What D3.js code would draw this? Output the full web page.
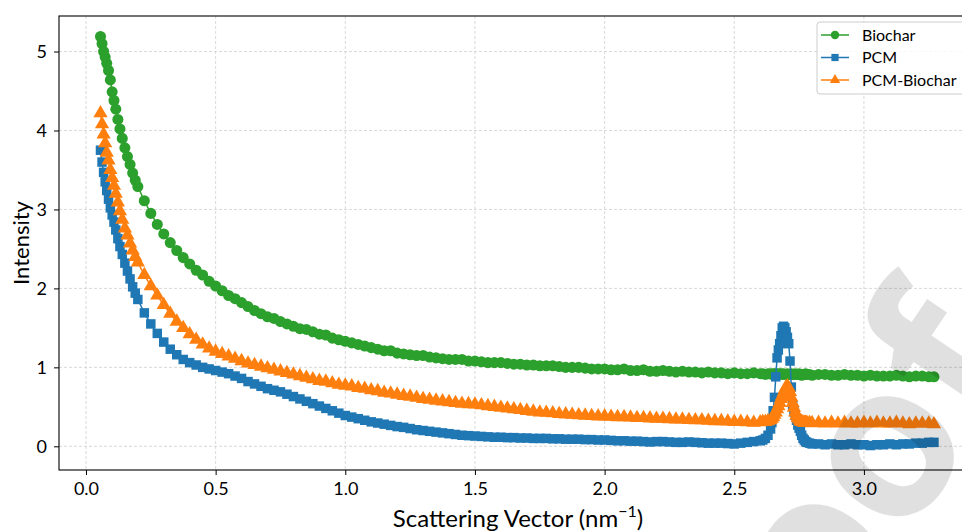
<!DOCTYPE html>
<html>
<head>
<meta charset="utf-8">
<script src="https://cdn.jsdelivr.net/npm/d3@7"></script>
<style>
  body { margin: 0; background: #fff; }
  svg { display: block; font-family: Lato, "Open Sans", sans-serif; }
</style>
</head>
<body>
<svg id="chart" width="962" height="532"></svg>
<script>
'use strict';

// scattering vector (nm^-1), shared by all three curves
var qValues = [
  0.056, 0.062, 0.068, 0.074, 0.08, 0.087, 0.094, 0.101, 0.108, 0.115, 0.123, 0.131, 0.14, 0.15, 0.16, 0.17, 0.18, 0.19, 0.2,
  0.225, 0.25, 0.275, 0.3, 0.325, 0.35, 0.375, 0.4, 0.425, 0.45, 0.475, 0.5, 0.525, 0.55, 0.575, 0.6,
  0.625, 0.65, 0.675, 0.7, 0.725, 0.75, 0.775, 0.8, 0.825, 0.85, 0.875, 0.9, 0.925, 0.95, 0.975, 1.0,
  1.025, 1.05, 1.075, 1.1, 1.125, 1.15, 1.175, 1.2, 1.225, 1.25, 1.275, 1.3, 1.325, 1.35, 1.375, 1.4, 1.425, 1.45, 1.475, 1.5,
  1.525, 1.55, 1.575, 1.6, 1.625, 1.65, 1.675, 1.7, 1.725, 1.75, 1.775, 1.8, 1.825, 1.85, 1.875, 1.9, 1.925, 1.95, 1.975, 2.0,
  2.025, 2.05, 2.075, 2.1, 2.125, 2.15, 2.175, 2.2, 2.225, 2.25, 2.275, 2.3, 2.325, 2.35, 2.375, 2.4, 2.425, 2.45, 2.475, 2.5,
  2.525, 2.55, 2.575, 2.6,
  2.61, 2.62, 2.63, 2.64, 2.645, 2.65, 2.655, 2.66, 2.665, 2.67, 2.675, 2.68, 2.685, 2.69, 2.695, 2.7, 2.705, 2.71, 2.715, 2.72,
  2.725, 2.73, 2.735, 2.74, 2.745, 2.75, 2.755, 2.76, 2.765, 2.77, 2.775, 2.78, 2.79, 2.8,
  2.825, 2.85, 2.875, 2.9, 2.925, 2.95, 2.975, 3.0, 3.025, 3.05, 3.075, 3.1, 3.125, 3.15, 3.175, 3.2, 3.225, 3.25, 3.27
];

var biochar = [
  5.19, 5.10, 5.00, 4.93, 4.85, 4.76, 4.64, 4.49, 4.38, 4.27, 4.14, 4.02, 3.90, 3.78, 3.67, 3.57, 3.46, 3.37, 3.29,
  3.11, 2.95, 2.81, 2.69, 2.58, 2.48, 2.39, 2.31, 2.23, 2.17, 2.09, 2.03, 1.97, 1.91, 1.87, 1.82,
  1.77, 1.72, 1.68, 1.64, 1.62, 1.58, 1.55, 1.52, 1.49, 1.48, 1.45, 1.42, 1.41, 1.37, 1.35, 1.33,
  1.31, 1.29, 1.27, 1.25, 1.23, 1.21, 1.21, 1.18, 1.17, 1.16, 1.15, 1.15, 1.13, 1.12, 1.11, 1.10, 1.10, 1.10, 1.08, 1.08,
  1.07, 1.06, 1.06, 1.06, 1.05, 1.04, 1.04, 1.03, 1.03, 1.02, 1.02, 1.02, 1.01, 1.00, 1.00, 1.00, 0.99, 0.98, 0.98, 0.98,
  0.97, 0.97, 0.98, 0.96, 0.96, 0.97, 0.95, 0.95, 0.96, 0.95, 0.94, 0.95, 0.94, 0.94, 0.93, 0.94, 0.93, 0.93, 0.92, 0.93,
  0.92, 0.92, 0.93, 0.92,
  0.92, 0.91, 0.92, 0.92, 0.91, 0.92, 0.92, 0.91, 0.92, 0.91, 0.92, 0.92, 0.91, 0.92, 0.91, 0.91, 0.92, 0.91, 0.91, 0.92,
  0.91, 0.91, 0.92, 0.91, 0.91, 0.92, 0.91, 0.90, 0.91, 0.91, 0.92, 0.91, 0.91, 0.90,
  0.91, 0.91, 0.90, 0.90, 0.91, 0.90, 0.90, 0.89, 0.90, 0.89, 0.89, 0.89, 0.90, 0.89, 0.88, 0.89, 0.89, 0.88, 0.88
];

var pcm = [
  3.75, 3.60, 3.47, 3.35, 3.24, 3.13, 3.02, 2.93, 2.84, 2.74, 2.63, 2.53, 2.43, 2.32, 2.22, 2.12, 2.02, 1.94, 1.86,
  1.69, 1.55, 1.43, 1.32, 1.23, 1.16, 1.10, 1.06, 1.03, 1.00, 0.98, 0.96, 0.94, 0.92, 0.89, 0.86,
  0.82, 0.79, 0.76, 0.73, 0.71, 0.69, 0.66, 0.63, 0.60, 0.57, 0.54, 0.51, 0.48, 0.45, 0.42, 0.39,
  0.37, 0.35, 0.33, 0.31, 0.295, 0.28, 0.265, 0.25, 0.24, 0.225, 0.21, 0.20, 0.19, 0.18, 0.17, 0.16, 0.15, 0.14, 0.135, 0.13,
  0.125, 0.12, 0.115, 0.115, 0.11, 0.11, 0.105, 0.105, 0.10, 0.10, 0.10, 0.095, 0.095, 0.09, 0.09, 0.09, 0.085, 0.085, 0.08, 0.08,
  0.075, 0.07, 0.07, 0.065, 0.065, 0.06, 0.055, 0.06, 0.06, 0.055, 0.05, 0.05, 0.055, 0.05, 0.045, 0.04, 0.04, 0.04, 0.035, 0.03,
  0.04, 0.05, 0.06, 0.07,
  0.08, 0.10, 0.14, 0.22, 0.30, 0.45, 0.62, 0.88, 1.12, 1.22, 1.30, 1.40, 1.50, 1.52, 1.50, 1.45, 1.38, 1.30, 1.08, 0.75,
  0.52, 0.44, 0.39, 0.33, 0.27, 0.23, 0.19, 0.14, 0.10, 0.08, 0.06, 0.05, 0.04, 0.03,
  0.03, 0.02, 0.03, 0.02, 0.02, 0.03, 0.02, 0.02, 0.01, 0.02, 0.02, 0.03, 0.02, 0.03, 0.03, 0.04, 0.04, 0.05, 0.05
];

var pcmBiochar = [
  4.22, 4.08, 3.95, 3.84, 3.72, 3.62, 3.50, 3.40, 3.30, 3.20, 3.09, 2.98, 2.87, 2.76, 2.67, 2.57, 2.48, 2.40, 2.33,
  2.17, 2.03, 1.91, 1.79, 1.68, 1.58, 1.50, 1.42, 1.35, 1.29, 1.24, 1.20, 1.17, 1.14, 1.11, 1.08,
  1.05, 1.03, 1.01, 0.99, 0.97, 0.95, 0.93, 0.91, 0.89, 0.87, 0.85, 0.83, 0.82, 0.80, 0.78, 0.77,
  0.76, 0.74, 0.73, 0.71, 0.70, 0.68, 0.67, 0.655, 0.64, 0.63, 0.615, 0.60, 0.59, 0.58, 0.57, 0.56, 0.55, 0.54, 0.535, 0.53,
  0.52, 0.51, 0.50, 0.49, 0.48, 0.47, 0.46, 0.45, 0.44, 0.43, 0.425, 0.42, 0.41, 0.405, 0.40, 0.395, 0.39, 0.385, 0.38, 0.38,
  0.375, 0.37, 0.37, 0.365, 0.36, 0.36, 0.355, 0.35, 0.35, 0.345, 0.34, 0.34, 0.335, 0.33, 0.33, 0.325, 0.32, 0.32, 0.315, 0.31,
  0.31, 0.305, 0.30, 0.305,
  0.31, 0.31, 0.32, 0.33, 0.35, 0.37, 0.40, 0.43, 0.47, 0.51, 0.55, 0.60, 0.64, 0.68, 0.72, 0.75, 0.76, 0.74, 0.69, 0.62,
  0.55, 0.49, 0.43, 0.39, 0.36, 0.34, 0.32, 0.31, 0.305, 0.30, 0.30, 0.30, 0.30, 0.295,
  0.30, 0.29, 0.30, 0.29, 0.30, 0.29, 0.29, 0.30, 0.29, 0.30, 0.29, 0.29, 0.30, 0.29, 0.28, 0.29, 0.29, 0.29, 0.28
];

var seriesNames = ['Biochar', 'PCM', 'PCM-Biochar'];
var xTicks = [0.0, 0.5, 1.0, 1.5, 2.0, 2.5, 3.0];
var yTicks = [0, 1, 2, 3, 4, 5];

// visible letters of the "Proof" stamp and where their baselines sit
var stampLetters = ['o', 'o', 'f'];
var stampBase = [[868, 597], [941, 489], [1002, 398]];

var svg = d3.select('#chart');

// axes box (right edge runs off the picture, like the source)
var box = {left: 59, top: 16, right: 977, bottom: 470};

var x = d3.scaleLinear().domain([-0.104, 3.436]).range([box.left, box.right]);
var y = d3.scaleLinear().domain([-0.3, 5.45]).range([box.bottom, box.top]);

// plot marks are a touch bigger than the legend ones so the dense runs read as bands
var series = [
  {name: seriesNames[0], values: biochar, color: '#2ca02c', symbol: d3.symbolCircle, size: 96, legendSize: 56},
  {name: seriesNames[1], values: pcm, color: '#1f77b4', symbol: d3.symbolSquare, size: 90, legendSize: 52},
  {name: seriesNames[2], values: pcmBiochar, color: '#ff7f0e', symbol: d3.symbolTriangle, size: 88, legendSize: 46}
];

svg.append('defs').append('clipPath').attr('id', 'plotClip')
  .append('rect')
  .attr('x', box.left).attr('y', box.top)
  .attr('width', box.right - box.left).attr('height', box.bottom - box.top);

// grid
var grid = svg.append('g').attr('class', 'grid')
  .attr('stroke', '#cfcfcf').attr('stroke-width', 0.8).attr('stroke-dasharray', '3,2');

grid.selectAll('line.gx').data(xTicks).enter().append('line')
  .attr('class', 'gx')
  .attr('x1', function (d) { return x(d); }).attr('x2', function (d) { return x(d); })
  .attr('y1', box.top).attr('y2', box.bottom);

grid.selectAll('line.gy').data(yTicks).enter().append('line')
  .attr('class', 'gy')
  .attr('y1', function (d) { return y(d); }).attr('y2', function (d) { return y(d); })
  .attr('x1', box.left).attr('x2', box.right);

// curves
var line = d3.line()
  .x(function (d) { return x(d[0]); })
  .y(function (d) { return y(d[1]); });

var plotArea = svg.append('g').attr('clip-path', 'url(#plotClip)');

series.forEach(function (s) {
  var pts = qValues.map(function (q, i) { return [q, s.values[i]]; });
  var g = plotArea.append('g');

  g.append('path')
    .datum(pts)
    .attr('d', line)
    .attr('fill', 'none')
    .attr('stroke', s.color)
    .attr('stroke-width', 1.5);

  g.selectAll('path.mark')
    .data(pts)
    .enter().append('path')
    .attr('class', 'mark')
    .attr('d', d3.symbol().type(s.symbol).size(s.size))
    .attr('transform', function (d) { return 'translate(' + x(d[0]) + ',' + y(d[1]) + ')'; })
    .attr('fill', s.color);
});

// axes
var xAxis = svg.append('g')
  .attr('transform', 'translate(0,' + box.bottom + ')')
  .call(d3.axisBottom(x).tickValues(xTicks).tickFormat(d3.format('.1f')).tickSize(5).tickPadding(7).tickSizeOuter(0));

var yAxis = svg.append('g')
  .attr('transform', 'translate(' + box.left + ',0)')
  .call(d3.axisLeft(y).tickValues(yTicks).tickFormat(d3.format('d')).tickSize(5).tickPadding(7).tickSizeOuter(0));

[xAxis, yAxis].forEach(function (a) {
  a.select('.domain').remove();
  a.selectAll('.tick line').attr('stroke', '#000').attr('stroke-width', 1);
  a.selectAll('.tick text')
    .attr('fill', '#000')
    .style('font-family', 'Lato, sans-serif')
    .style('font-size', '18px');
});

// spines
svg.append('rect')
  .attr('x', box.left).attr('y', box.top)
  .attr('width', box.right - box.left).attr('height', box.bottom - box.top)
  .attr('fill', 'none').attr('stroke', '#000').attr('stroke-width', 1.1);

// axis labels
var xLabel = svg.append('text')
  .attr('x', (box.left + box.right) / 2)
  .attr('y', 527)
  .attr('text-anchor', 'middle')
  .style('font-size', '24px')
  .attr('fill', '#000');
xLabel.append('tspan').text('Scattering Vector (nm');
xLabel.append('tspan').attr('dy', -10).style('font-size', '16px').text('\u22121');
xLabel.append('tspan').attr('dy', 10).text(')');

svg.append('text')
  .attr('transform', 'translate(29,' + ((box.top + box.bottom) / 2) + ') rotate(-90)')
  .attr('text-anchor', 'middle')
  .style('font-size', '22px')
  .attr('fill', '#000')
  .text('Intensity');

// legend
var legend = svg.append('g');
legend.append('rect')
  .attr('x', 817).attr('y', 22)
  .attr('width', 170).attr('height', 72)
  .attr('rx', 3)
  .attr('fill', '#fff').attr('fill-opacity', 0.8)
  .attr('stroke', '#cccccc').attr('stroke-width', 1);

var rows = legend.selectAll('g.row')
  .data(series)
  .enter().append('g')
  .attr('class', 'row')
  .attr('transform', function (d, i) { return 'translate(0,' + (35 + i * 22.5) + ')'; });

rows.append('line')
  .attr('x1', 821).attr('x2', 849)
  .attr('stroke', function (d) { return d.color; })
  .attr('stroke-width', 1.5);

rows.append('path')
  .attr('d', function (d) { return d3.symbol().type(d.symbol).size(d.legendSize)(); })
  .attr('transform', 'translate(835,0)')
  .attr('fill', function (d) { return d.color; });

rows.append('text')
  .attr('x', 862)
  .attr('dy', '0.35em')
  .style('font-size', '16px')
  .attr('fill', '#000')
  .text(function (d) { return d.name; });

// faint proof stamp over the figure, one letter at a time
svg.append('g').attr('class', 'stamp')
  .selectAll('text')
  .data(stampLetters)
  .enter().append('text')
  .attr('transform', function (d, i) {
    return 'translate(' + stampBase[i][0] + ',' + stampBase[i][1] + ') rotate(-56)';
  })
  .attr('text-anchor', 'middle')
  .style('font-family', '"Open Sans", sans-serif')
  .style('font-size', '215px')
  .style('font-weight', 'bold')
  .attr('fill', '#000')
  .attr('fill-opacity', 0.12)
  .text(function (d) { return d; });
</script>
</body>
</html>
